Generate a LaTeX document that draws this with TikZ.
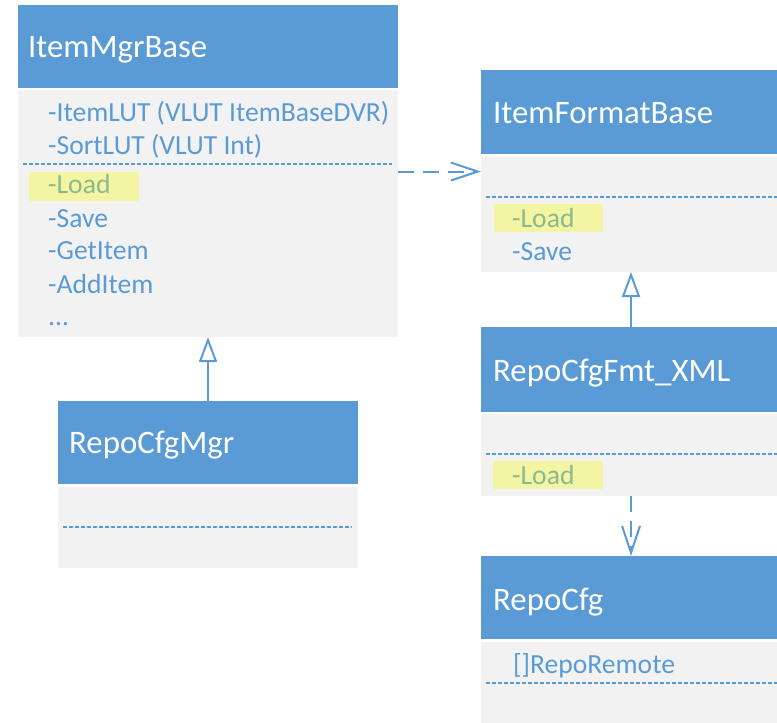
\documentclass[tikz,border=0pt]{standalone}
\usepackage{fontspec}
\setmainfont{Carlito}
\usetikzlibrary{arrows.meta,calc}
\definecolor{hdr}{HTML}{5B9BD5}
\definecolor{bodyc}{HTML}{F2F2F2}
\definecolor{hl}{HTML}{F4F5A2}
\definecolor{loadc}{HTML}{8BB98E}
\begin{document}
\begin{tikzpicture}[x=1pt,y=-1pt,
 hbox/.style={fill=hdr, draw=none, anchor=north west, inner sep=0, outer sep=0},
 bbox/.style={fill=bodyc, draw=none, anchor=north west, inner sep=0, outer sep=0},
 ttl/.style={text=white, font=\fontsize{32.8}{32.8}\selectfont, anchor=base west, inner sep=0},
 mem/.style={text=hdr, font=\fontsize{27.6}{27.6}\selectfont, anchor=base west, inner sep=0},
 lmem/.style={mem, text=loadc},
 hlbox/.style={fill=hl, draw=none, anchor=north west, inner sep=0, outer sep=0},
 sep/.style={draw=hdr, line width=1.2pt, dash pattern=on 4pt off 2pt},
 inh/.style={draw=hdr, line width=2pt, -{Triangle[open, length=25pt, width=18pt, fill=white]}},
 dep/.style={draw=hdr, line width=2pt, dash pattern=on 16pt off 9pt, -{Straight Barb[length=27pt, width=18pt]}}
]
\useasboundingbox[fill=white] (0,0) rectangle (777,723);

% ItemMgrBase
\node[hbox, minimum width=380pt, minimum height=83pt] (imbH) at (18,5) {};
\node[bbox, minimum width=380pt, minimum height=247pt] (imbB) at (18,90) {};
\node[ttl] (imbT) at (28,57) {ItemMgrBase};
\node[mem] (imb1) at (48,121) {-ItemLUT (VLUT ItemBaseDVR)};
\node[mem] (imb2) at (48,154) {-SortLUT (VLUT Int)};
\coordinate (imbS1) at (23,164);
\coordinate (imbS2) at (392,164);
\draw[sep] (imbS1) -- (imbS2);
\node[hlbox, minimum width=110pt, minimum height=29pt] (imbHL) at (29,172) {};
\node[lmem] (imb3) at (48,193) {-Load};
\node[mem] (imb4) at (48,227) {-Save};
\node[mem] (imb5) at (48,259) {-GetItem};
\node[mem] (imb6) at (48,293) {-AddItem};
\node[mem] (imb7) at (48,325) {...};

% ItemFormatBase
\node[hbox, minimum width=296pt, minimum height=84pt] (ifbH) at (481,70) {};
\node[bbox, minimum width=296pt, minimum height=115pt] (ifbB) at (481,157) {};
\node[ttl] (ifbT) at (493,123) {ItemFormatBase};
\coordinate (ifbS1) at (486,197);
\coordinate (ifbS2) at (777,197);
\draw[sep] (ifbS1) -- (ifbS2);
\node[hlbox, minimum width=109pt, minimum height=28pt] (ifbHL) at (494,204) {};
\node[lmem] (ifb1) at (512,227) {-Load};
\node[mem] (ifb2) at (512,260) {-Save};

% RepoCfgMgr
\node[hbox, minimum width=300pt, minimum height=83pt] (rcmH) at (58,401) {};
\node[bbox, minimum width=300pt, minimum height=81pt] (rcmB) at (58,487) {};
\node[ttl] (rcmT) at (69,453) {RepoCfgMgr};
\coordinate (rcmS1) at (63,527);
\coordinate (rcmS2) at (352,527);
\draw[sep] (rcmS1) -- (rcmS2);

% RepoCfgFmt_XML
\node[hbox, minimum width=296pt, minimum height=85pt] (rcfH) at (481,327) {};
\node[bbox, minimum width=296pt, minimum height=82pt] (rcfB) at (481,414) {};
\node[ttl] (rcfT) at (493,381) {RepoCfgFmt\_XML};
\coordinate (rcfS1) at (486,454);
\coordinate (rcfS2) at (777,454);
\draw[sep] (rcfS1) -- (rcfS2);
\node[hlbox, minimum width=110pt, minimum height=28pt] (rcfHL) at (493,461) {};
\node[lmem] (rcf1) at (512,484) {-Load};

% RepoCfg
\node[hbox, minimum width=296pt, minimum height=83pt] (rcH) at (481,556) {};
\node[bbox, minimum width=296pt, minimum height=81pt] (rcB) at (481,642) {};
\node[ttl] (rcT) at (493,610) {RepoCfg};
\node[mem] (rc1) at (513,673) {[]RepoRemote};
\coordinate (rcS1) at (486,683);
\coordinate (rcS2) at (777,683);
\draw[sep] (rcS1) -- (rcS2);

% connectors
\draw[inh] (rcmH.north) -- (imbB.south);
\draw[inh] ([xshift=2pt]rcfH.north) -- ([xshift=2pt]ifbB.south);
\coordinate (depy) at (0,171.5);
\draw[dep] (imbB.east |- depy) -- (ifbB.west |- depy);
\draw[dep] ([xshift=2pt]rcfB.south) -- ([xshift=2pt]rcH.north);
\end{tikzpicture}
\end{document}
